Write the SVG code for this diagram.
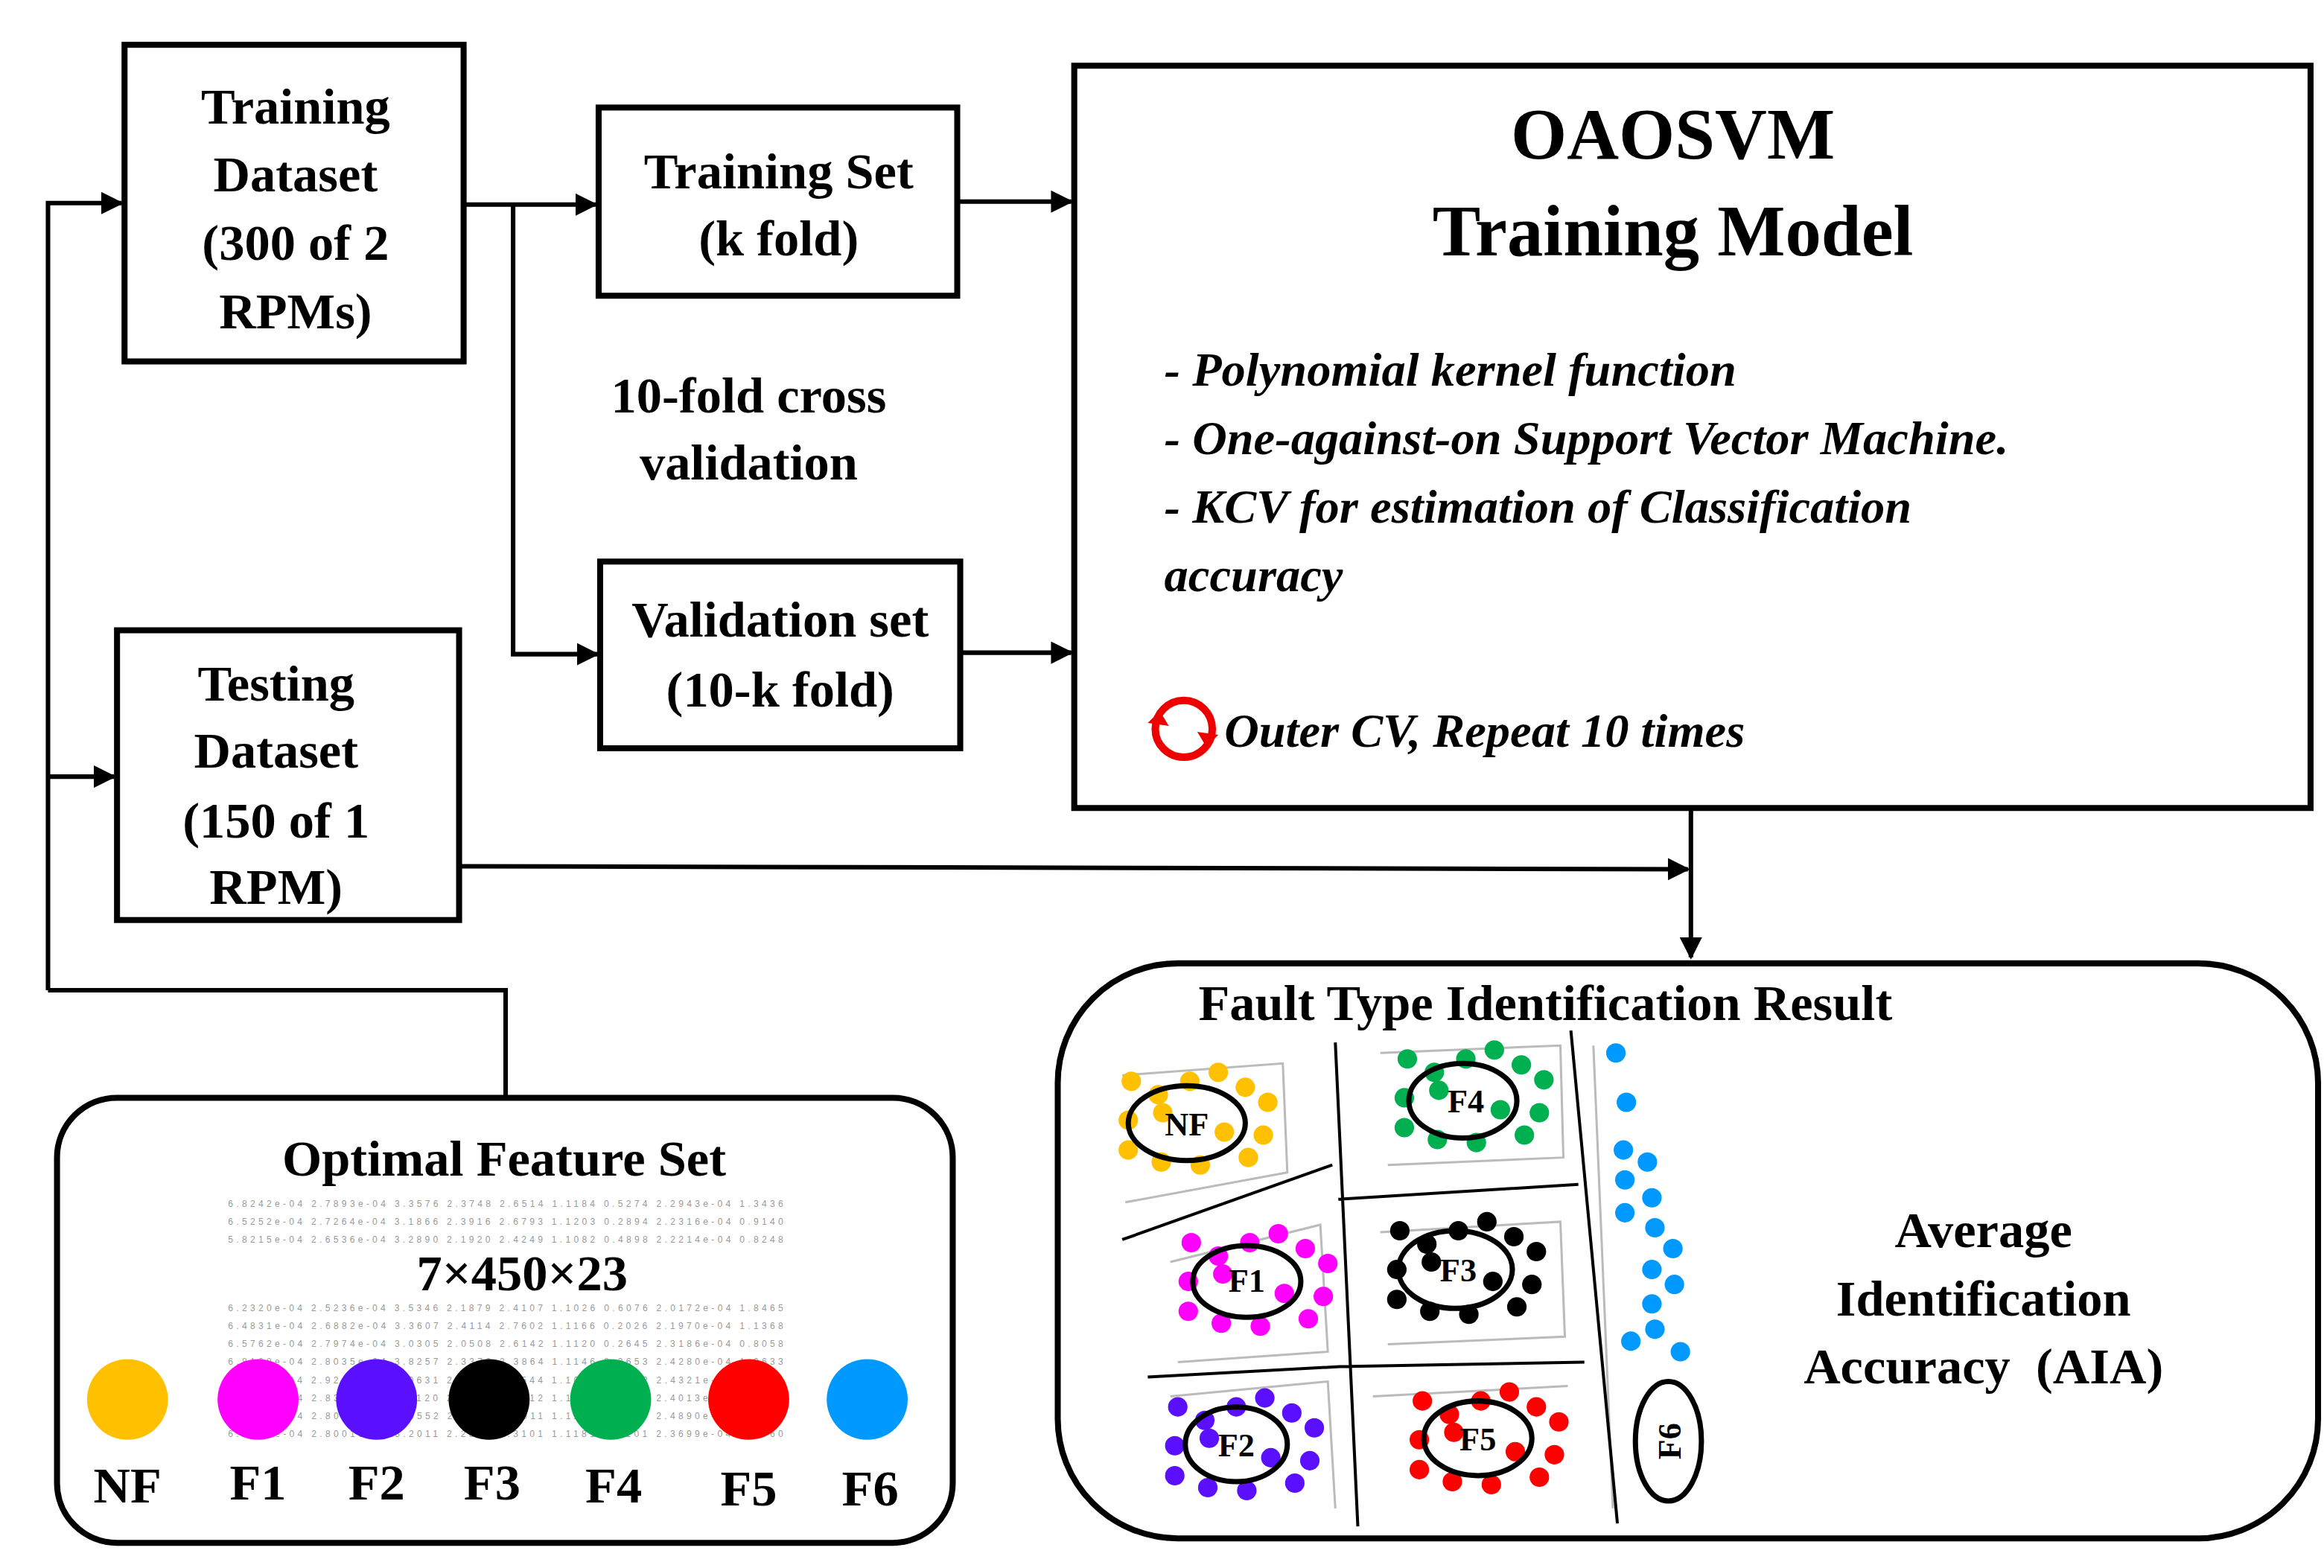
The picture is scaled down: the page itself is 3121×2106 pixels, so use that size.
<svg xmlns="http://www.w3.org/2000/svg" width="3121" height="2106" viewBox="0 0 3121 2106">
<style>
.b{fill:#fff;stroke:#000;stroke-width:4}
.t{font-family:"Liberation Serif",serif;font-weight:bold;font-size:34px;text-anchor:middle;fill:#000}
.h{font-size:48px}
.i{font-family:"Liberation Serif",serif;font-weight:bold;font-style:italic;font-size:32px;fill:#000}
.c{fill:none;stroke:#000;stroke-width:3}
.e{fill:none;stroke:#000;stroke-width:3.5}
.g{stroke:#bbb;stroke-width:1.5;fill:none}
.d{font-family:"Liberation Sans",sans-serif;font-size:6px;fill:#999}
.l{font-family:"Liberation Serif",serif;font-weight:bold;font-size:22px;text-anchor:middle;fill:#000}
</style>
<defs>
<marker id="a" viewBox="0 0 10 10" refX="9" refY="5" markerWidth="5" markerHeight="5" orient="auto"><path d="M0,0L10,5L0,10z" fill="#000"/></marker>
<g id="ring"><circle cx="-37" cy="-28" r="6.5"/><circle cx="-19" cy="-19" r="6.5"/><circle cx="2" cy="-28" r="6.5"/><circle cx="21" cy="-34" r="6.5"/><circle cx="39" cy="-24" r="6.5"/><circle cx="54" cy="-14" r="6.5"/><circle cx="-39" cy="-2" r="6.5"/><circle cx="-16" cy="-7" r="6.5"/><circle cx="51" cy="8" r="6.5"/><circle cx="-39" cy="18" r="6.5"/><circle cx="-17" cy="26" r="6.5"/><circle cx="9" cy="28" r="6.5"/><circle cx="41" cy="23" r="6.5"/><circle cx="25" cy="6" r="6.5"/></g>
</defs>
<rect width="3121" height="2106" fill="#fff"/>
<g transform="scale(2.0149,2.006)">
<g id="connectors" class="c">
<path d="M32,663V136H81" marker-end="url(#a)"/>
<path d="M32,520H76" marker-end="url(#a)"/>
<path d="M32,663H337V735"/>
<path d="M309,137H397" marker-end="url(#a)"/>
<path d="M342,137V438H398" marker-end="url(#a)"/>
<path d="M638,135H714" marker-end="url(#a)"/>
<path d="M640,437H714" marker-end="url(#a)"/>
<path d="M306,580L1125,582" marker-end="url(#a)"/>
<path d="M1127,541V641" marker-end="url(#a)"/>
</g>
<g id="training-dataset"><rect class="b" x="83" y="30" width="226" height="212"/>
<text class="t" x="197" y="83">Training</text><text class="t" x="197" y="128">Dataset</text><text class="t" x="197" y="174">(300 of 2</text><text class="t" x="197" y="220">RPMs)</text></g>
<g id="training-set"><rect class="b" x="399" y="72" width="239" height="126"/>
<text class="t" x="519" y="126">Training Set</text><text class="t" x="519" y="171">(k fold)</text></g>
<g id="cv-label"><text class="t" x="499" y="276">10-fold cross</text><text class="t" x="499" y="321">validation</text></g>
<g id="validation-set"><rect class="b" x="400" y="376" width="240" height="125"/>
<text class="t" x="520" y="426">Validation set</text><text class="t" x="520" y="473">(10-k fold)</text></g>
<g id="testing-dataset"><rect class="b" x="78" y="422" width="228" height="194"/>
<text class="t" x="184" y="469">Testing</text><text class="t" x="184" y="514">Dataset</text><text class="t" x="184" y="561">(150 of 1</text><text class="t" x="184" y="605">RPM)</text></g>
<g id="oaosvm"><rect class="b" x="716" y="44" width="824" height="497"/>
<text class="t h" x="1115" y="106">OAOSVM</text><text class="t h" x="1115" y="171">Training Model</text>
<text class="i" x="776" y="258">- Polynomial kernel function</text>
<text class="i" x="776" y="304">- One-against-on Support Vector Machine.</text>
<text class="i" x="776" y="350">- KCV for estimation of Classification</text>
<text class="i" x="776" y="396">accuracy</text>
<circle cx="789" cy="488" r="19" fill="none" stroke="#e00" stroke-width="5"/>
<path d="M765,484l8,-8l6,10z M812,492l-8,8l-6,-10z" fill="#e00"/>
<text class="i" x="816" y="500">Outer CV, Repeat 10 times</text></g>
<g id="optimal-feature-set"><rect class="b" x="38" y="735" width="597" height="298" rx="40"/>
<text class="t" x="336" y="787">Optimal Feature Set</text>
<g class="d">
<text x="152" y="808" textLength="370">6.8242e-04  2.7893e-04  3.3576  2.3748  2.6514  1.1184  0.5274  2.2943e-04  1.3436</text>
<text x="152" y="820" textLength="370">6.5252e-04  2.7264e-04  3.1866  2.3916  2.6793  1.1203  0.2894  2.2316e-04  0.9140</text>
<text x="152" y="832" textLength="370">5.8215e-04  2.6536e-04  3.2890  2.1920  2.4249  1.1082  0.4898  2.2214e-04  0.8248</text>
<text x="152" y="878" textLength="370">6.2320e-04  2.5236e-04  3.5346  2.1879  2.4107  1.1026  0.6076  2.0172e-04  1.8465</text>
<text x="152" y="890" textLength="370">6.4831e-04  2.6882e-04  3.3607  2.4114  2.7602  1.1166  0.2026  2.1970e-04  1.1368</text>
<text x="152" y="902" textLength="370">6.5762e-04  2.7974e-04  3.0305  2.0508  2.6142  1.1120  0.2645  2.3186e-04  0.8058</text>
<text x="152" y="914" textLength="370">6.8108e-04  2.8035e-04  3.8257  2.3376  2.3864  1.1146  0.3653  2.4280e-04  1.0633</text>
<text x="152" y="926" textLength="370">5.8415e-04  2.9246e-04  3.0631  2.0320  2.2544  1.1094  0.4682  2.4321e-04  0.7536</text>
<text x="152" y="938" textLength="370">6.0123e-04  2.8333e-04  3.1120  2.3386  2.2212  1.1125  0.4435  2.4013e-04  0.8312</text>
<text x="152" y="950" textLength="370">6.1022e-04  2.8072e-04  3.0552  2.1753  2.3011  1.1150  0.4200  2.4890e-04  0.9021</text>
<text x="152" y="962" textLength="370">6.2230e-04  2.8001e-04  3.2011  2.2802  2.3101  1.1181  0.4101  2.3699e-04  0.8760</text>
</g>
<text class="t" x="348" y="864">7×450×23</text>
<circle cx="85" cy="937" r="27" fill="#FFC000"/><circle cx="172" cy="937" r="27" fill="#FF00FF"/><circle cx="251" cy="937" r="27" fill="#5B0FFF"/><circle cx="326" cy="937" r="27" fill="#000"/><circle cx="407" cy="937" r="27" fill="#00B050"/><circle cx="499" cy="937" r="27" fill="#FF0000"/><circle cx="578" cy="937" r="27" fill="#0099FF"/>
<text class="t" x="85" y="1006">NF</text><text class="t" x="172" y="1004">F1</text><text class="t" x="251" y="1004">F2</text><text class="t" x="328" y="1004">F3</text><text class="t" x="409" y="1006">F4</text><text class="t" x="499" y="1008">F5</text><text class="t" x="580" y="1008">F6</text></g>
<g id="results"><rect class="b" x="705" y="645" width="840" height="385" rx="80"/>
<text class="t" x="1030" y="683">Fault Type Identification Result</text>
<path class="g" d="M748,720L855,712L858,785L750,805 M920,705L1040,700L1042,775L925,780 M780,845L880,820L885,905L785,912 M920,825L1040,818L1043,895L925,900 M780,935L885,925L890,1010 M915,935L1045,928 M1062,700L1075,1010"/>
<path fill="none" stroke="#000" stroke-width="2" d="M890,698L905,1022 M1047,690L1078,1020 M748,830L888,780 M892,803L1052,793 M765,922L893,915L1056,912"/>
<g fill="#FFC000"><use href="#ring" x="791" y="752"/></g>
<g fill="#00B050"><use href="#ring" x="975" y="737"/></g>
<g fill="#FF00FF"><use href="#ring" x="831" y="860"/></g>
<g fill="#000"><use href="#ring" x="970" y="852"/></g>
<g fill="#5B0FFF"><use href="#ring" x="822" y="970"/></g>
<g fill="#FF0000"><use href="#ring" x="985" y="966"/></g>
<ellipse class="e" cx="791" cy="752" rx="39" ry="25"/><ellipse class="e" cx="975" cy="737" rx="36" ry="25"/><ellipse class="e" cx="831" cy="858" rx="36" ry="24"/><ellipse class="e" cx="970" cy="850" rx="38" ry="26"/><ellipse class="e" cx="824" cy="967" rx="34" ry="25"/><ellipse class="e" cx="985" cy="963" rx="36" ry="25"/><ellipse class="e" cx="1112" cy="965" rx="22" ry="40"/>
<text class="l" x="791" y="760">NF</text><text class="l" x="977" y="745">F4</text><text class="l" x="831" y="865">F1</text><text class="l" x="972" y="858">F3</text><text class="l" x="824" y="975">F2</text><text class="l" x="985" y="971">F5</text>
<text class="l" transform="translate(1120,965) rotate(-90)" x="0" y="0">F6</text>
<g fill="#0099FF"><circle cx="1077" cy="705" r="6.5"/><circle cx="1084" cy="738" r="6.5"/><circle cx="1082" cy="770" r="6.5"/><circle cx="1098" cy="778" r="6.5"/><circle cx="1083" cy="790" r="6.5"/><circle cx="1101" cy="802" r="6.5"/><circle cx="1083" cy="812" r="6.5"/><circle cx="1103" cy="822" r="6.5"/><circle cx="1115" cy="836" r="6.5"/><circle cx="1101" cy="850" r="6.5"/><circle cx="1116" cy="860" r="6.5"/><circle cx="1101" cy="873" r="6.5"/><circle cx="1103" cy="890" r="6.5"/><circle cx="1087" cy="898" r="6.5"/><circle cx="1120" cy="905" r="6.5"/></g>
<text class="t" x="1322" y="835">Average</text><text class="t" x="1322" y="881">Identification</text><text class="t" x="1322" y="926" xml:space="preserve">Accuracy  (AIA)</text></g>
</g>
</svg>
